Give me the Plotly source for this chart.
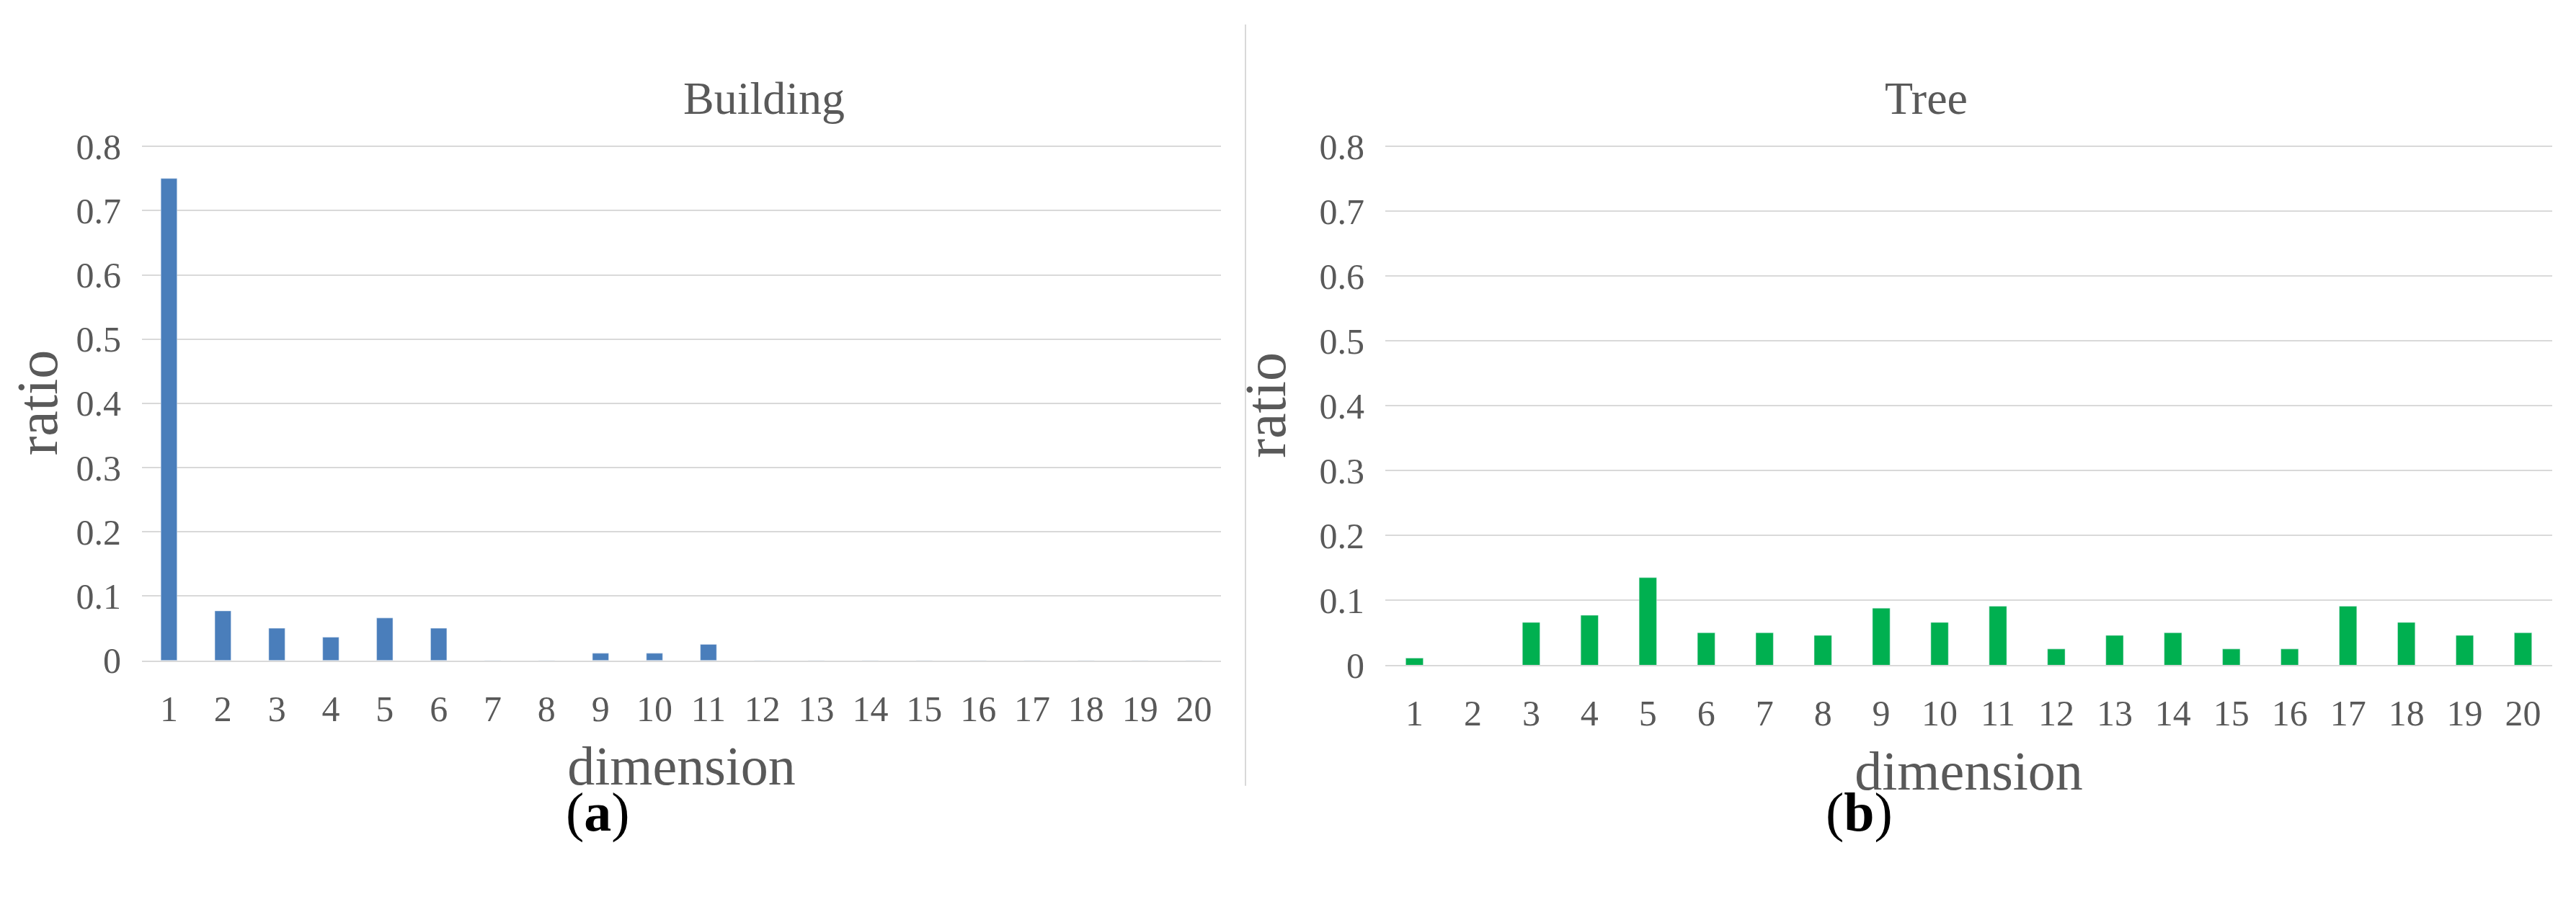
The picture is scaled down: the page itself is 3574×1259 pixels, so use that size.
import plotly.graph_objects as go

dims = [str(i) for i in range(1, 21)]
building = [0.75, 0.077, 0.05, 0.036, 0.066, 0.05, 0, 0, 0.011, 0.011, 0.025, 0, 0, 0, 0, 0, 0, 0, 0, 0]
tree = [0.011, 0, 0.066, 0.077, 0.135, 0.05, 0.05, 0.046, 0.088, 0.066, 0.091, 0.025, 0.046, 0.05, 0.025, 0.025, 0.091, 0.066, 0.046, 0.05]
yticks = [0, 0.1, 0.2, 0.3, 0.4, 0.5, 0.6, 0.7, 0.8]
ytext = ["0", "0.1", "0.2", "0.3", "0.4", "0.5", "0.6", "0.7", "0.8"]

W, H = 3574, 1259
fig = go.Figure()
fig.add_trace(go.Bar(x=dims, y=building, marker_color="#4a7ebb", width=0.3, xaxis="x", yaxis="y"))
fig.add_trace(go.Bar(x=dims, y=tree, marker_color="#00b050", width=0.3, xaxis="x2", yaxis="y2"))

font = dict(family="Liberation Serif", color="#595959")
ax = dict(showgrid=False, showline=True, linecolor="#d9d9d9", linewidth=2, ticks="outside", ticklen=22, tickcolor="rgba(0,0,0,0)",
          tickfont=dict(size=50, **font), title=dict(text="dimension", font=dict(size=76, **font), standoff=25))
ay = dict(range=[0, 0.802], tickvals=yticks, ticktext=ytext, showgrid=True, gridcolor="#d9d9d9", gridwidth=2,
          ticks="outside", ticklen=18, tickcolor="rgba(0,0,0,0)",
          zeroline=False, tickfont=dict(size=50, **font), title=dict(text="ratio", font=dict(size=80, **font), standoff=20))

fig.update_layout(
    width=W, height=H, plot_bgcolor="white", paper_bgcolor="white", showlegend=False,
    margin=dict(l=0, r=0, t=0, b=0),
    xaxis=dict(domain=[189/W, 1686/W], anchor="y", **ax),
    yaxis=dict(domain=[1-923/H, 1-175/H], anchor="x", **ay),
    xaxis2=dict(domain=[1914/W, 3533/W], anchor="y2", **ax),
    yaxis2=dict(domain=[1-930/H, 1-175/H], anchor="x2", **ay),
    annotations=[
        dict(text="Building", x=(189+1686)/2/W, y=1-68/H, xref="paper", yref="paper", showarrow=False, font=dict(size=64, **font)),
        dict(text="Tree", x=(1914+3533)/2/W, y=1-68/H, xref="paper", yref="paper", showarrow=False, font=dict(size=64, **font)),
        dict(text="(<b>a</b>)", x=775/W, y=1-1190/H, xref="paper", yref="paper", showarrow=False, font=dict(size=76, family="Liberation Serif", color="black")),
        dict(text="(<b>b</b>)", x=2620/W, y=1-1190/H, xref="paper", yref="paper", showarrow=False, font=dict(size=76, family="Liberation Serif", color="black")),
    ],
    shapes=[dict(type="line", xref="paper", yref="paper", x0=1720/W, x1=1720/W, y0=1-1105/H, y1=1, line=dict(color="#d9d9d9", width=2))],
)
fig.write_html("out.html")
